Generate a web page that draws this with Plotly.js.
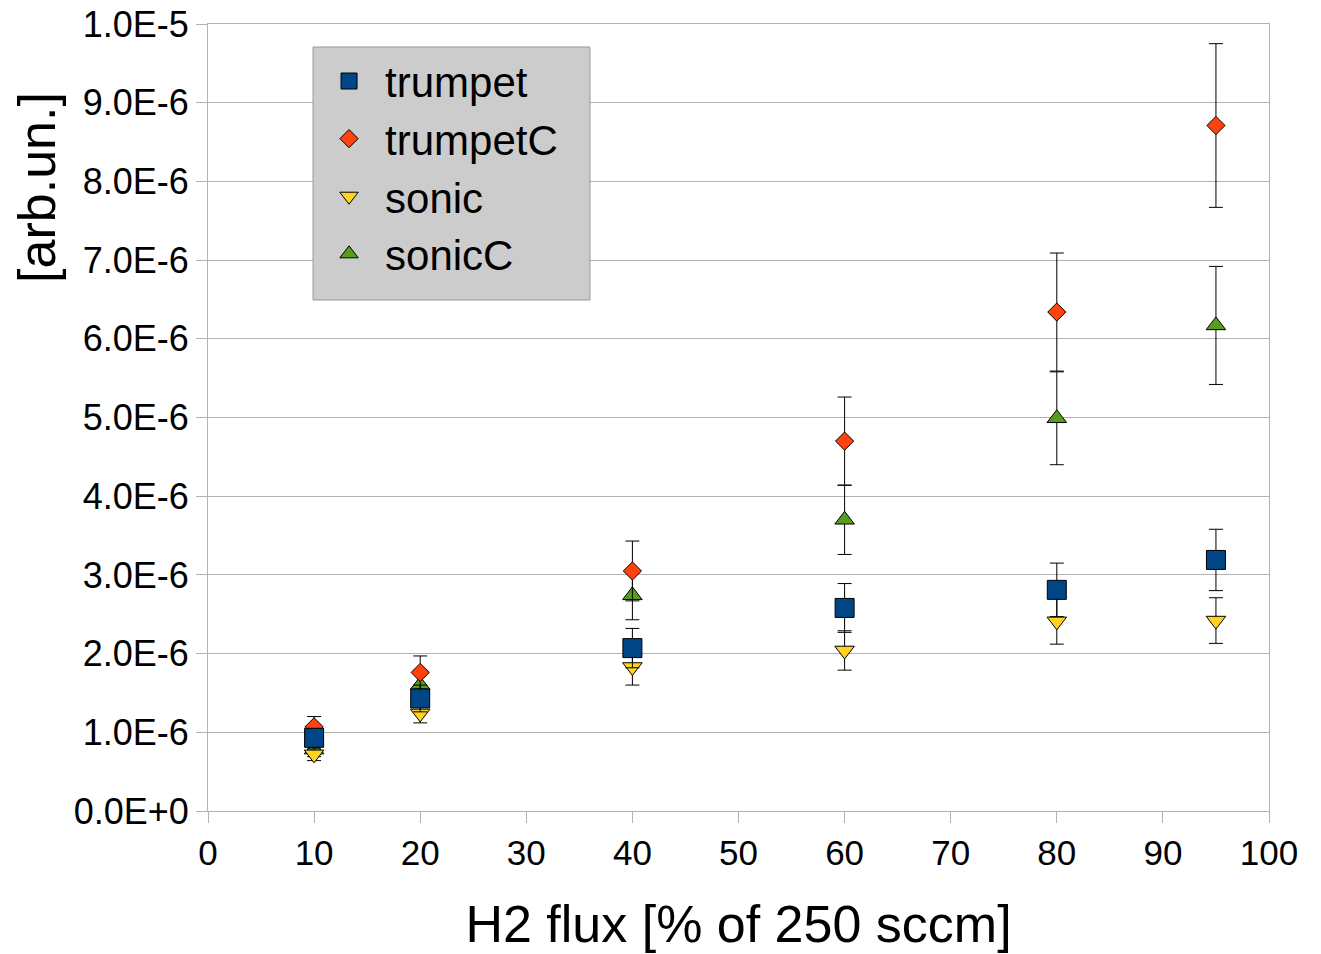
<!DOCTYPE html>
<html>
<head>
<meta charset="utf-8">
<script src="https://cdn.plot.ly/plotly-3.0.1.min.js"></script>
<style>html,body{margin:0;padding:0;background:#fff;}#chart{width:1321px;height:954px;}</style>
</head>
<body>
<div id="chart"></div>
<script>
// x values: H2 flux [% of 250 sccm]
const flux = [10, 20, 40, 60, 80, 95];

// series values (units of 1e-6 arb.un.)
const trumpet      = [0.93, 1.43, 2.07, 2.58, 2.81, 3.19];
const trumpetErr   = [0.11, 0.17, 0.25, 0.31, 0.34, 0.39];
const trumpetC     = [1.07, 1.76, 3.05, 4.70, 6.34, 8.71];
const trumpetCErr  = [0.13, 0.21, 0.38, 0.56, 0.75, 1.04];
const sonic        = [0.72, 1.24, 1.83, 2.04, 2.41, 2.42];
const sonicErr     = [0.08, 0.12, 0.23, 0.25, 0.29, 0.29];
const sonicC       = [0.78, 1.60, 2.74, 3.70, 4.99, 6.17];
const sonicCErr    = [0.09, 0.19, 0.31, 0.44, 0.59, 0.75];

// tick labels
const yTickVals = [0,1,2,3,4,5,6,7,8,9,10];
const yTickText = ["0.0E+0","1.0E-6","2.0E-6","3.0E-6","4.0E-6","5.0E-6","6.0E-6","7.0E-6","8.0E-6","9.0E-6","1.0E-5"];
const xTickVals = [0,10,20,30,40,50,60,70,80,90,100];

const scale = v => v.map(d => d * 1e-6);
const FONT = "Liberation Sans, Arial, sans-serif";

function mk(name, y, err, symbol, color, size) {
  return {
    type: 'scatter', mode: 'markers', name: name,
    x: flux, y: scale(y),
    error_y: {type: 'data', array: scale(err), visible: true, color: '#000000', thickness: 1, width: 7},
    marker: {symbol: symbol, color: color, size: size, line: {color: '#000000', width: 1}}
  };
}

const traces = [
  mk('sonicC', sonicC, sonicCErr, 'triangle-up', '#579d1c', 17),
  mk('sonic', sonic, sonicErr, 'triangle-down', '#ffd320', 17),
  mk('trumpetC', trumpetC, trumpetCErr, 'diamond', '#ff420e', 14),
  mk('trumpet', trumpet, trumpetErr, 'square', '#004586', 19)
];

const layout = {
  width: 1321, height: 954,
  margin: {l: 208, r: 52, t: 24, b: 143, pad: 0},
  paper_bgcolor: '#ffffff', plot_bgcolor: '#ffffff',
  font: {family: FONT, color: '#000000'},
  showlegend: true,
  legend: {
    x: 0.099, y: 0.9705, xanchor: 'left', yanchor: 'top',
    bgcolor: 'rgba(0,0,0,0)', borderwidth: 0,
    font: {family: FONT, size: 42, color: '#000000'},
    traceorder: 'reversed', itemsizing: 'trace', itemwidth: 62
  },
  shapes: [{
    type: 'rect', xref: 'paper', yref: 'paper', layer: 'above',
    x0: 0.0990, x1: 0.3600, y0: 0.6493, y1: 0.9708,
    fillcolor: '#cccccc', line: {color: '#999999', width: 1}
  }],
  xaxis: {
    range: [0, 100], tickvals: xTickVals, ticktext: xTickVals.map(String),
    showgrid: false, zeroline: false,
    showline: true, linecolor: '#b3b3b3', linewidth: 1, mirror: true,
    ticks: 'outside', ticklen: 11, tickcolor: '#b3b3b3',
    tickfont: {family: FONT, size: 35, color: '#000000'},
    title: {text: 'H2 flux [% of 250 sccm]', font: {family: FONT, size: 52, color: '#000000'}, standoff: 34}
  },
  yaxis: {
    range: [0, 1e-5], tickvals: scale(yTickVals), ticktext: yTickText,
    showgrid: true, gridcolor: '#b3b3b3', gridwidth: 1, zeroline: false,
    showline: true, linecolor: '#b3b3b3', linewidth: 1, mirror: true,
    ticks: 'outside', ticklen: 11, tickcolor: '#b3b3b3',
    tickfont: {family: FONT, size: 36, color: '#000000'}
  },
  annotations: [{
    text: '[arb.un.]', xref: 'paper', yref: 'paper',
    x: -0.161, y: 0.792, xanchor: 'center', yanchor: 'middle',
    textangle: -90, showarrow: false,
    font: {family: FONT, size: 52, color: '#000000'}
  }]
};

Plotly.newPlot('chart', traces, layout, {displayModeBar: false, staticPlot: true});
</script>
</body>
</html>
